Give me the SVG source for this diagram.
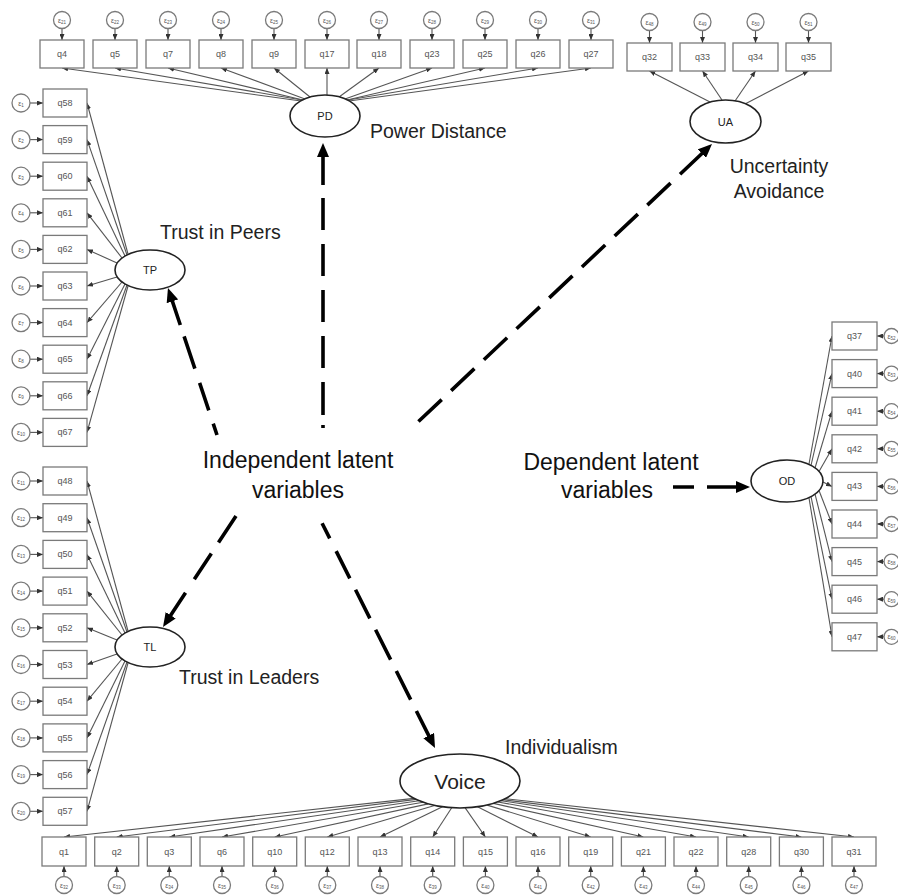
<svg xmlns="http://www.w3.org/2000/svg" width="898" height="896" viewBox="0 0 898 896">
<style>
.ob{fill:#fff;stroke:#7a7a7a;stroke-width:1.3}
.ot{font-family:"Liberation Sans",Arial,sans-serif;font-size:9px;fill:#555;text-anchor:middle}
.er{fill:#fff;stroke:#7a7a7a;stroke-width:1.3}
.et{font-family:"Liberation Sans",Arial,sans-serif;font-size:7px;fill:#555;text-anchor:middle}
.lv{fill:#fff;stroke:#222;stroke-width:1.6}
.lt{font-family:"Liberation Sans",Arial,sans-serif;font-size:11px;fill:#222;text-anchor:middle}
.lab{font-family:"Liberation Sans",Arial,sans-serif;font-size:19.5px;fill:#222}
.big{font-family:"Liberation Sans",Arial,sans-serif;font-size:23px;fill:#111;text-anchor:middle}
.sub{font-size:4.5px}
</style>
<defs>
<marker id="sa" viewBox="0 0 6 5" refX="6" refY="2.5" markerWidth="6" markerHeight="5" markerUnits="userSpaceOnUse" orient="auto"><path d="M0,0 L6,2.5 L0,5 z" fill="#333"/></marker>
<marker id="ba" viewBox="0 0 14 12" refX="6" refY="6" markerWidth="14" markerHeight="12" markerUnits="userSpaceOnUse" orient="auto-start-reverse"><path d="M0,0 L14,6 L0,12 z" fill="#000"/></marker>
</defs>
<rect width="898" height="896" fill="#fff"/>

<g id="connectors">
<g fill="none" stroke="#555" stroke-width="1.1" marker-end="url(#sa)">
<!-- PD loadings -->
<line x1="301" y1="101" x2="62" y2="68"/>
<line x1="302" y1="100" x2="115" y2="68"/>
<line x1="303" y1="100" x2="168" y2="68"/>
<line x1="305" y1="99" x2="221" y2="68"/>
<line x1="310" y1="97" x2="274" y2="68"/>
<line x1="327" y1="95" x2="327" y2="68"/>
<line x1="339" y1="97" x2="379" y2="68"/>
<line x1="345" y1="99" x2="432" y2="68"/>
<line x1="347" y1="100" x2="485" y2="68"/>
<line x1="348" y1="100" x2="538" y2="68"/>
<line x1="349" y1="101" x2="591" y2="68"/>
<!-- UA loadings -->
<line x1="710" y1="102" x2="649.5" y2="71"/>
<line x1="722" y1="100" x2="702.5" y2="71"/>
<line x1="735" y1="101" x2="755.5" y2="71"/>
<line x1="745" y1="104" x2="808.5" y2="71"/>
<!-- TP loadings -->
<line x1="128" y1="254" x2="87" y2="103"/>
<line x1="127" y1="255" x2="87" y2="139.6"/>
<line x1="125" y1="256" x2="87" y2="176.2"/>
<line x1="122" y1="258" x2="87" y2="212.8"/>
<line x1="117" y1="263" x2="87" y2="249.4"/>
<line x1="117" y1="277" x2="87" y2="286"/>
<line x1="122" y1="282" x2="87" y2="322.6"/>
<line x1="125" y1="284" x2="87" y2="359.2"/>
<line x1="127" y1="285" x2="87" y2="395.8"/>
<line x1="128" y1="286" x2="87" y2="432.4"/>
<!-- TL loadings -->
<line x1="128" y1="631" x2="87" y2="481"/>
<line x1="127" y1="632" x2="87" y2="517.7"/>
<line x1="125" y1="633" x2="87" y2="554.4"/>
<line x1="122" y1="635" x2="87" y2="591.1"/>
<line x1="117" y1="640" x2="87" y2="627.8"/>
<line x1="117" y1="654" x2="87" y2="664.5"/>
<line x1="122" y1="659" x2="87" y2="701.2"/>
<line x1="125" y1="661" x2="87" y2="737.9"/>
<line x1="127" y1="662" x2="87" y2="774.6"/>
<line x1="128" y1="663" x2="87" y2="811.3"/>
<!-- OD loadings -->
<line x1="809" y1="464" x2="832" y2="336"/>
<line x1="811" y1="465.5" x2="832" y2="373.6"/>
<line x1="815" y1="468" x2="832" y2="411.2"/>
<line x1="819" y1="471.5" x2="832" y2="448.8"/>
<line x1="823" y1="482" x2="832" y2="486.4"/>
<line x1="819" y1="490.5" x2="832" y2="524"/>
<line x1="815" y1="494" x2="832" y2="561.6"/>
<line x1="811" y1="496.5" x2="832" y2="599.2"/>
<line x1="809" y1="498" x2="832" y2="636.8"/>
<!-- Voice loadings -->
<line x1="414" y1="798.4" x2="64" y2="837"/>
<line x1="416.1" y1="799.4" x2="116.7" y2="837"/>
<line x1="419.1" y1="800.7" x2="169.3" y2="837"/>
<line x1="423.1" y1="802.3" x2="222" y2="837"/>
<line x1="428.2" y1="803.9" x2="274.7" y2="837"/>
<line x1="434.6" y1="805.5" x2="327.3" y2="837"/>
<line x1="442.5" y1="806.8" x2="380" y2="837"/>
<line x1="451.7" y1="807.7" x2="432.7" y2="837"/>
<line x1="465.2" y1="807.9" x2="485.4" y2="837"/>
<line x1="477.5" y1="806.8" x2="538" y2="837"/>
<line x1="487.2" y1="805.1" x2="590.7" y2="837"/>
<line x1="493.5" y1="803.4" x2="643.4" y2="837"/>
<line x1="497.8" y1="802" x2="696" y2="837"/>
<line x1="500.9" y1="800.7" x2="748.7" y2="837"/>
<line x1="503.2" y1="799.8" x2="801.4" y2="837"/>
<line x1="505.3" y1="798.7" x2="854" y2="837"/>
<!-- error arrows PD -->
<line x1="62" y1="28.5" x2="62" y2="40"/>
<line x1="115" y1="28.5" x2="115" y2="40"/>
<line x1="168" y1="28.5" x2="168" y2="40"/>
<line x1="221" y1="28.5" x2="221" y2="40"/>
<line x1="274" y1="28.5" x2="274" y2="40"/>
<line x1="327" y1="28.5" x2="327" y2="40"/>
<line x1="379" y1="28.5" x2="379" y2="40"/>
<line x1="432" y1="28.5" x2="432" y2="40"/>
<line x1="485" y1="28.5" x2="485" y2="40"/>
<line x1="538" y1="28.5" x2="538" y2="40"/>
<line x1="591" y1="28.5" x2="591" y2="40"/>
<!-- error arrows UA -->
<line x1="649.5" y1="30.5" x2="649.5" y2="43"/>
<line x1="702.5" y1="30.5" x2="702.5" y2="43"/>
<line x1="755.5" y1="30.5" x2="755.5" y2="43"/>
<line x1="808.5" y1="30.5" x2="808.5" y2="43"/>
<!-- error arrows TP -->
<line x1="30" y1="103" x2="43" y2="103"/>
<line x1="30" y1="139.6" x2="43" y2="139.6"/>
<line x1="30" y1="176.2" x2="43" y2="176.2"/>
<line x1="30" y1="212.8" x2="43" y2="212.8"/>
<line x1="30" y1="249.4" x2="43" y2="249.4"/>
<line x1="30" y1="286" x2="43" y2="286"/>
<line x1="30" y1="322.6" x2="43" y2="322.6"/>
<line x1="30" y1="359.2" x2="43" y2="359.2"/>
<line x1="30" y1="395.8" x2="43" y2="395.8"/>
<line x1="30" y1="432.4" x2="43" y2="432.4"/>
<!-- error arrows TL -->
<line x1="30" y1="481" x2="43" y2="481"/>
<line x1="30" y1="517.7" x2="43" y2="517.7"/>
<line x1="30" y1="554.4" x2="43" y2="554.4"/>
<line x1="30" y1="591.1" x2="43" y2="591.1"/>
<line x1="30" y1="627.8" x2="43" y2="627.8"/>
<line x1="30" y1="664.5" x2="43" y2="664.5"/>
<line x1="30" y1="701.2" x2="43" y2="701.2"/>
<line x1="30" y1="737.9" x2="43" y2="737.9"/>
<line x1="30" y1="774.6" x2="43" y2="774.6"/>
<line x1="30" y1="811.3" x2="43" y2="811.3"/>
<!-- error arrows OD -->
<line x1="884" y1="336" x2="877" y2="336"/>
<line x1="884" y1="373.6" x2="877" y2="373.6"/>
<line x1="884" y1="411.2" x2="877" y2="411.2"/>
<line x1="884" y1="448.8" x2="877" y2="448.8"/>
<line x1="884" y1="486.4" x2="877" y2="486.4"/>
<line x1="884" y1="524" x2="877" y2="524"/>
<line x1="884" y1="561.6" x2="877" y2="561.6"/>
<line x1="884" y1="599.2" x2="877" y2="599.2"/>
<line x1="884" y1="636.8" x2="877" y2="636.8"/>
<!-- error arrows Voice -->
<line x1="64" y1="876.5" x2="64" y2="866"/>
<line x1="116.7" y1="876.5" x2="116.7" y2="866"/>
<line x1="169.3" y1="876.5" x2="169.3" y2="866"/>
<line x1="222" y1="876.5" x2="222" y2="866"/>
<line x1="274.7" y1="876.5" x2="274.7" y2="866"/>
<line x1="327.3" y1="876.5" x2="327.3" y2="866"/>
<line x1="380" y1="876.5" x2="380" y2="866"/>
<line x1="432.7" y1="876.5" x2="432.7" y2="866"/>
<line x1="485.4" y1="876.5" x2="485.4" y2="866"/>
<line x1="538" y1="876.5" x2="538" y2="866"/>
<line x1="590.7" y1="876.5" x2="590.7" y2="866"/>
<line x1="643.4" y1="876.5" x2="643.4" y2="866"/>
<line x1="696" y1="876.5" x2="696" y2="866"/>
<line x1="748.7" y1="876.5" x2="748.7" y2="866"/>
<line x1="801.4" y1="876.5" x2="801.4" y2="866"/>
<line x1="854" y1="876.5" x2="854" y2="866"/>
</g>
<g fill="none" stroke="#000" stroke-width="3.6" marker-start="url(#ba)">
<path d="M323,151 L323,428" stroke-dasharray="34 13 32 14 32 14 32 14 32 14 33 10 4 30"/>
<path d="M706.2,149.5 L418,422" stroke-dasharray="36 13 32 13 32 13 32 13 32 13 32 13 32 13 32 13 32 13 32 20"/>
<path d="M170.5,295.6 L217,435" stroke-dasharray="31 12 34 15 29 14 13 20"/>
<path d="M167.4,620.3 L236,516" stroke-dasharray="33 16 31 13 32 20"/>
<path d="M431.4,740.9 L322,523" stroke-dasharray="33.5 12.7 32 12.7 33.5 12.7 32 12.7 30.5 14.3 17 20"/>
<path d="M742,487 L673,487" stroke-dasharray="35 13 21 20"/>
</g>
</g>

<!-- latent variables -->
<g id="PD"><ellipse class="lv" cx="325" cy="116" rx="35" ry="21"/><text class="lt" x="325" y="120">PD</text></g>
<g id="UA"><ellipse class="lv" cx="725.5" cy="121.5" rx="35.5" ry="21.5"/><text class="lt" x="725.5" y="125.5">UA</text></g>
<g id="TP"><ellipse class="lv" cx="150" cy="270" rx="35" ry="20"/><text class="lt" x="150" y="274">TP</text></g>
<g id="TL"><ellipse class="lv" cx="150" cy="647" rx="35" ry="20"/><text class="lt" x="150" y="651">TL</text></g>
<g id="OD"><ellipse class="lv" cx="787" cy="481" rx="36" ry="21"/><text class="lt" x="787" y="485">OD</text></g>
<g id="Voice"><ellipse class="lv" cx="460" cy="781" rx="60" ry="27"/><text class="lt" x="460" y="789" style="font-size:21px">Voice</text></g>

<!-- PD indicators -->
<g id="q4"><rect class="ob" x="40" y="40" width="44" height="28"/><text class="ot" x="62" y="57">q4</text></g>
<g id="q5"><rect class="ob" x="93" y="40" width="44" height="28"/><text class="ot" x="115" y="57">q5</text></g>
<g id="q7"><rect class="ob" x="146" y="40" width="44" height="28"/><text class="ot" x="168" y="57">q7</text></g>
<g id="q8"><rect class="ob" x="199" y="40" width="44" height="28"/><text class="ot" x="221" y="57">q8</text></g>
<g id="q9"><rect class="ob" x="252" y="40" width="44" height="28"/><text class="ot" x="274" y="57">q9</text></g>
<g id="q17"><rect class="ob" x="305" y="40" width="44" height="28"/><text class="ot" x="327" y="57">q17</text></g>
<g id="q18"><rect class="ob" x="357" y="40" width="44" height="28"/><text class="ot" x="379" y="57">q18</text></g>
<g id="q23"><rect class="ob" x="410" y="40" width="44" height="28"/><text class="ot" x="432" y="57">q23</text></g>
<g id="q25"><rect class="ob" x="463" y="40" width="44" height="28"/><text class="ot" x="485" y="57">q25</text></g>
<g id="q26"><rect class="ob" x="516" y="40" width="44" height="28"/><text class="ot" x="538" y="57">q26</text></g>
<g id="q27"><rect class="ob" x="569" y="40" width="44" height="28"/><text class="ot" x="591" y="57">q27</text></g>
<g id="e21"><circle class="er" cx="62" cy="20" r="8.5"/><text class="et" x="62" y="22.5">ε<tspan class="sub" dy="1">21</tspan></text></g>
<g id="e22"><circle class="er" cx="115" cy="20" r="8.5"/><text class="et" x="115" y="22.5">ε<tspan class="sub" dy="1">22</tspan></text></g>
<g id="e23"><circle class="er" cx="168" cy="20" r="8.5"/><text class="et" x="168" y="22.5">ε<tspan class="sub" dy="1">23</tspan></text></g>
<g id="e24"><circle class="er" cx="221" cy="20" r="8.5"/><text class="et" x="221" y="22.5">ε<tspan class="sub" dy="1">24</tspan></text></g>
<g id="e25"><circle class="er" cx="274" cy="20" r="8.5"/><text class="et" x="274" y="22.5">ε<tspan class="sub" dy="1">25</tspan></text></g>
<g id="e26"><circle class="er" cx="327" cy="20" r="8.5"/><text class="et" x="327" y="22.5">ε<tspan class="sub" dy="1">26</tspan></text></g>
<g id="e27"><circle class="er" cx="379" cy="20" r="8.5"/><text class="et" x="379" y="22.5">ε<tspan class="sub" dy="1">27</tspan></text></g>
<g id="e28"><circle class="er" cx="432" cy="20" r="8.5"/><text class="et" x="432" y="22.5">ε<tspan class="sub" dy="1">28</tspan></text></g>
<g id="e29"><circle class="er" cx="485" cy="20" r="8.5"/><text class="et" x="485" y="22.5">ε<tspan class="sub" dy="1">29</tspan></text></g>
<g id="e30"><circle class="er" cx="538" cy="20" r="8.5"/><text class="et" x="538" y="22.5">ε<tspan class="sub" dy="1">30</tspan></text></g>
<g id="e31"><circle class="er" cx="591" cy="20" r="8.5"/><text class="et" x="591" y="22.5">ε<tspan class="sub" dy="1">31</tspan></text></g>

<!-- UA indicators -->
<g id="q32"><rect class="ob" x="627" y="43" width="45" height="28"/><text class="ot" x="649.5" y="60">q32</text></g>
<g id="q33"><rect class="ob" x="680" y="43" width="45" height="28"/><text class="ot" x="702.5" y="60">q33</text></g>
<g id="q34"><rect class="ob" x="733" y="43" width="45" height="28"/><text class="ot" x="755.5" y="60">q34</text></g>
<g id="q35"><rect class="ob" x="786" y="43" width="45" height="28"/><text class="ot" x="808.5" y="60">q35</text></g>
<g id="e48"><circle class="er" cx="649.5" cy="22" r="8.5"/><text class="et" x="649.5" y="24.5">ε<tspan class="sub" dy="1">48</tspan></text></g>
<g id="e49"><circle class="er" cx="702.5" cy="22" r="8.5"/><text class="et" x="702.5" y="24.5">ε<tspan class="sub" dy="1">49</tspan></text></g>
<g id="e50"><circle class="er" cx="755.5" cy="22" r="8.5"/><text class="et" x="755.5" y="24.5">ε<tspan class="sub" dy="1">50</tspan></text></g>
<g id="e51"><circle class="er" cx="808.5" cy="22" r="8.5"/><text class="et" x="808.5" y="24.5">ε<tspan class="sub" dy="1">51</tspan></text></g>

<!-- TP indicators -->
<g id="q58"><rect class="ob" x="43" y="89" width="44" height="28"/><text class="ot" x="65" y="106">q58</text></g>
<g id="q59"><rect class="ob" x="43" y="125.6" width="44" height="28"/><text class="ot" x="65" y="142.6">q59</text></g>
<g id="q60"><rect class="ob" x="43" y="162.2" width="44" height="28"/><text class="ot" x="65" y="179.2">q60</text></g>
<g id="q61"><rect class="ob" x="43" y="198.8" width="44" height="28"/><text class="ot" x="65" y="215.8">q61</text></g>
<g id="q62"><rect class="ob" x="43" y="235.4" width="44" height="28"/><text class="ot" x="65" y="252.4">q62</text></g>
<g id="q63"><rect class="ob" x="43" y="272" width="44" height="28"/><text class="ot" x="65" y="289">q63</text></g>
<g id="q64"><rect class="ob" x="43" y="308.6" width="44" height="28"/><text class="ot" x="65" y="325.6">q64</text></g>
<g id="q65"><rect class="ob" x="43" y="345.2" width="44" height="28"/><text class="ot" x="65" y="362.2">q65</text></g>
<g id="q66"><rect class="ob" x="43" y="381.8" width="44" height="28"/><text class="ot" x="65" y="398.8">q66</text></g>
<g id="q67"><rect class="ob" x="43" y="418.4" width="44" height="28"/><text class="ot" x="65" y="435.4">q67</text></g>
<g id="e1"><circle class="er" cx="21" cy="103" r="9"/><text class="et" x="21" y="105.5">ε<tspan class="sub" dy="1">1</tspan></text></g>
<g id="e2"><circle class="er" cx="21" cy="139.6" r="9"/><text class="et" x="21" y="142.1">ε<tspan class="sub" dy="1">2</tspan></text></g>
<g id="e3"><circle class="er" cx="21" cy="176.2" r="9"/><text class="et" x="21" y="178.7">ε<tspan class="sub" dy="1">3</tspan></text></g>
<g id="e4"><circle class="er" cx="21" cy="212.8" r="9"/><text class="et" x="21" y="215.3">ε<tspan class="sub" dy="1">4</tspan></text></g>
<g id="e5"><circle class="er" cx="21" cy="249.4" r="9"/><text class="et" x="21" y="251.9">ε<tspan class="sub" dy="1">5</tspan></text></g>
<g id="e6"><circle class="er" cx="21" cy="286" r="9"/><text class="et" x="21" y="288.5">ε<tspan class="sub" dy="1">6</tspan></text></g>
<g id="e7"><circle class="er" cx="21" cy="322.6" r="9"/><text class="et" x="21" y="325.1">ε<tspan class="sub" dy="1">7</tspan></text></g>
<g id="e8"><circle class="er" cx="21" cy="359.2" r="9"/><text class="et" x="21" y="361.7">ε<tspan class="sub" dy="1">8</tspan></text></g>
<g id="e9"><circle class="er" cx="21" cy="395.8" r="9"/><text class="et" x="21" y="398.3">ε<tspan class="sub" dy="1">9</tspan></text></g>
<g id="e10"><circle class="er" cx="21" cy="432.4" r="9"/><text class="et" x="21" y="434.9">ε<tspan class="sub" dy="1">10</tspan></text></g>

<!-- TL indicators -->
<g id="q48"><rect class="ob" x="43" y="467" width="44" height="28"/><text class="ot" x="65" y="484">q48</text></g>
<g id="q49"><rect class="ob" x="43" y="503.7" width="44" height="28"/><text class="ot" x="65" y="520.7">q49</text></g>
<g id="q50"><rect class="ob" x="43" y="540.4" width="44" height="28"/><text class="ot" x="65" y="557.4">q50</text></g>
<g id="q51"><rect class="ob" x="43" y="577.1" width="44" height="28"/><text class="ot" x="65" y="594.1">q51</text></g>
<g id="q52"><rect class="ob" x="43" y="613.8" width="44" height="28"/><text class="ot" x="65" y="630.8">q52</text></g>
<g id="q53"><rect class="ob" x="43" y="650.5" width="44" height="28"/><text class="ot" x="65" y="667.5">q53</text></g>
<g id="q54"><rect class="ob" x="43" y="687.2" width="44" height="28"/><text class="ot" x="65" y="704.2">q54</text></g>
<g id="q55"><rect class="ob" x="43" y="723.9" width="44" height="28"/><text class="ot" x="65" y="740.9">q55</text></g>
<g id="q56"><rect class="ob" x="43" y="760.6" width="44" height="28"/><text class="ot" x="65" y="777.6">q56</text></g>
<g id="q57"><rect class="ob" x="43" y="797.3" width="44" height="28"/><text class="ot" x="65" y="814.3">q57</text></g>
<g id="e11"><circle class="er" cx="21" cy="481" r="9"/><text class="et" x="21" y="483.5">ε<tspan class="sub" dy="1">11</tspan></text></g>
<g id="e12"><circle class="er" cx="21" cy="517.7" r="9"/><text class="et" x="21" y="520.2">ε<tspan class="sub" dy="1">12</tspan></text></g>
<g id="e13"><circle class="er" cx="21" cy="554.4" r="9"/><text class="et" x="21" y="556.9">ε<tspan class="sub" dy="1">13</tspan></text></g>
<g id="e14"><circle class="er" cx="21" cy="591.1" r="9"/><text class="et" x="21" y="593.6">ε<tspan class="sub" dy="1">14</tspan></text></g>
<g id="e15"><circle class="er" cx="21" cy="627.8" r="9"/><text class="et" x="21" y="630.3">ε<tspan class="sub" dy="1">15</tspan></text></g>
<g id="e16"><circle class="er" cx="21" cy="664.5" r="9"/><text class="et" x="21" y="667">ε<tspan class="sub" dy="1">16</tspan></text></g>
<g id="e17"><circle class="er" cx="21" cy="701.2" r="9"/><text class="et" x="21" y="703.7">ε<tspan class="sub" dy="1">17</tspan></text></g>
<g id="e18"><circle class="er" cx="21" cy="737.9" r="9"/><text class="et" x="21" y="740.4">ε<tspan class="sub" dy="1">18</tspan></text></g>
<g id="e19"><circle class="er" cx="21" cy="774.6" r="9"/><text class="et" x="21" y="777.1">ε<tspan class="sub" dy="1">19</tspan></text></g>
<g id="e20"><circle class="er" cx="21" cy="811.3" r="9"/><text class="et" x="21" y="813.8">ε<tspan class="sub" dy="1">20</tspan></text></g>

<!-- OD indicators -->
<g id="q37"><rect class="ob" x="832" y="322" width="45" height="28"/><text class="ot" x="854.5" y="339">q37</text></g>
<g id="q40"><rect class="ob" x="832" y="359.6" width="45" height="28"/><text class="ot" x="854.5" y="376.6">q40</text></g>
<g id="q41"><rect class="ob" x="832" y="397.2" width="45" height="28"/><text class="ot" x="854.5" y="414.2">q41</text></g>
<g id="q42"><rect class="ob" x="832" y="434.8" width="45" height="28"/><text class="ot" x="854.5" y="451.8">q42</text></g>
<g id="q43"><rect class="ob" x="832" y="472.4" width="45" height="28"/><text class="ot" x="854.5" y="489.4">q43</text></g>
<g id="q44"><rect class="ob" x="832" y="510" width="45" height="28"/><text class="ot" x="854.5" y="527">q44</text></g>
<g id="q45"><rect class="ob" x="832" y="547.6" width="45" height="28"/><text class="ot" x="854.5" y="564.6">q45</text></g>
<g id="q46"><rect class="ob" x="832" y="585.2" width="45" height="28"/><text class="ot" x="854.5" y="602.2">q46</text></g>
<g id="q47"><rect class="ob" x="832" y="622.8" width="45" height="28"/><text class="ot" x="854.5" y="639.8">q47</text></g>
<g id="e52"><circle class="er" cx="891.5" cy="336" r="7.5"/><text class="et" x="891.5" y="338.5">ε<tspan class="sub" dy="1">52</tspan></text></g>
<g id="e53"><circle class="er" cx="891.5" cy="373.6" r="7.5"/><text class="et" x="891.5" y="376.1">ε<tspan class="sub" dy="1">53</tspan></text></g>
<g id="e54"><circle class="er" cx="891.5" cy="411.2" r="7.5"/><text class="et" x="891.5" y="413.7">ε<tspan class="sub" dy="1">54</tspan></text></g>
<g id="e55"><circle class="er" cx="891.5" cy="448.8" r="7.5"/><text class="et" x="891.5" y="451.3">ε<tspan class="sub" dy="1">55</tspan></text></g>
<g id="e56"><circle class="er" cx="891.5" cy="486.4" r="7.5"/><text class="et" x="891.5" y="488.9">ε<tspan class="sub" dy="1">56</tspan></text></g>
<g id="e57"><circle class="er" cx="891.5" cy="524" r="7.5"/><text class="et" x="891.5" y="526.5">ε<tspan class="sub" dy="1">57</tspan></text></g>
<g id="e58"><circle class="er" cx="891.5" cy="561.6" r="7.5"/><text class="et" x="891.5" y="564.1">ε<tspan class="sub" dy="1">58</tspan></text></g>
<g id="e59"><circle class="er" cx="891.5" cy="599.2" r="7.5"/><text class="et" x="891.5" y="601.7">ε<tspan class="sub" dy="1">59</tspan></text></g>
<g id="e60"><circle class="er" cx="891.5" cy="636.8" r="7.5"/><text class="et" x="891.5" y="639.3">ε<tspan class="sub" dy="1">60</tspan></text></g>

<!-- Voice indicators -->
<g id="q1"><rect class="ob" x="42" y="837" width="44" height="29"/><text class="ot" x="64" y="854.5">q1</text></g>
<g id="q2"><rect class="ob" x="94.7" y="837" width="44" height="29"/><text class="ot" x="116.7" y="854.5">q2</text></g>
<g id="q3"><rect class="ob" x="147.3" y="837" width="44" height="29"/><text class="ot" x="169.3" y="854.5">q3</text></g>
<g id="q6"><rect class="ob" x="200" y="837" width="44" height="29"/><text class="ot" x="222" y="854.5">q6</text></g>
<g id="q10"><rect class="ob" x="252.7" y="837" width="44" height="29"/><text class="ot" x="274.7" y="854.5">q10</text></g>
<g id="q12"><rect class="ob" x="305.3" y="837" width="44" height="29"/><text class="ot" x="327.3" y="854.5">q12</text></g>
<g id="q13"><rect class="ob" x="358" y="837" width="44" height="29"/><text class="ot" x="380" y="854.5">q13</text></g>
<g id="q14"><rect class="ob" x="410.7" y="837" width="44" height="29"/><text class="ot" x="432.7" y="854.5">q14</text></g>
<g id="q15"><rect class="ob" x="463.4" y="837" width="44" height="29"/><text class="ot" x="485.4" y="854.5">q15</text></g>
<g id="q16"><rect class="ob" x="516" y="837" width="44" height="29"/><text class="ot" x="538" y="854.5">q16</text></g>
<g id="q19"><rect class="ob" x="568.7" y="837" width="44" height="29"/><text class="ot" x="590.7" y="854.5">q19</text></g>
<g id="q21"><rect class="ob" x="621.4" y="837" width="44" height="29"/><text class="ot" x="643.4" y="854.5">q21</text></g>
<g id="q22"><rect class="ob" x="674" y="837" width="44" height="29"/><text class="ot" x="696" y="854.5">q22</text></g>
<g id="q28"><rect class="ob" x="726.7" y="837" width="44" height="29"/><text class="ot" x="748.7" y="854.5">q28</text></g>
<g id="q30"><rect class="ob" x="779.4" y="837" width="44" height="29"/><text class="ot" x="801.4" y="854.5">q30</text></g>
<g id="q31"><rect class="ob" x="832" y="837" width="44" height="29"/><text class="ot" x="854" y="854.5">q31</text></g>
<g id="e32"><circle class="er" cx="64" cy="885" r="8.5"/><text class="et" x="64" y="887.5">ε<tspan class="sub" dy="1">32</tspan></text></g>
<g id="e33"><circle class="er" cx="116.7" cy="885" r="8.5"/><text class="et" x="116.7" y="887.5">ε<tspan class="sub" dy="1">33</tspan></text></g>
<g id="e34"><circle class="er" cx="169.3" cy="885" r="8.5"/><text class="et" x="169.3" y="887.5">ε<tspan class="sub" dy="1">34</tspan></text></g>
<g id="e35"><circle class="er" cx="222" cy="885" r="8.5"/><text class="et" x="222" y="887.5">ε<tspan class="sub" dy="1">35</tspan></text></g>
<g id="e36"><circle class="er" cx="274.7" cy="885" r="8.5"/><text class="et" x="274.7" y="887.5">ε<tspan class="sub" dy="1">36</tspan></text></g>
<g id="e37"><circle class="er" cx="327.3" cy="885" r="8.5"/><text class="et" x="327.3" y="887.5">ε<tspan class="sub" dy="1">37</tspan></text></g>
<g id="e38"><circle class="er" cx="380" cy="885" r="8.5"/><text class="et" x="380" y="887.5">ε<tspan class="sub" dy="1">38</tspan></text></g>
<g id="e39"><circle class="er" cx="432.7" cy="885" r="8.5"/><text class="et" x="432.7" y="887.5">ε<tspan class="sub" dy="1">39</tspan></text></g>
<g id="e40"><circle class="er" cx="485.4" cy="885" r="8.5"/><text class="et" x="485.4" y="887.5">ε<tspan class="sub" dy="1">40</tspan></text></g>
<g id="e41"><circle class="er" cx="538" cy="885" r="8.5"/><text class="et" x="538" y="887.5">ε<tspan class="sub" dy="1">41</tspan></text></g>
<g id="e42"><circle class="er" cx="590.7" cy="885" r="8.5"/><text class="et" x="590.7" y="887.5">ε<tspan class="sub" dy="1">42</tspan></text></g>
<g id="e43"><circle class="er" cx="643.4" cy="885" r="8.5"/><text class="et" x="643.4" y="887.5">ε<tspan class="sub" dy="1">43</tspan></text></g>
<g id="e44"><circle class="er" cx="696" cy="885" r="8.5"/><text class="et" x="696" y="887.5">ε<tspan class="sub" dy="1">44</tspan></text></g>
<g id="e45"><circle class="er" cx="748.7" cy="885" r="8.5"/><text class="et" x="748.7" y="887.5">ε<tspan class="sub" dy="1">45</tspan></text></g>
<g id="e46"><circle class="er" cx="801.4" cy="885" r="8.5"/><text class="et" x="801.4" y="887.5">ε<tspan class="sub" dy="1">46</tspan></text></g>
<g id="e47"><circle class="er" cx="854" cy="885" r="8.5"/><text class="et" x="854" y="887.5">ε<tspan class="sub" dy="1">47</tspan></text></g>

<!-- construct labels -->
<g id="labels">
<text class="lab" x="370" y="138">Power Distance</text>
<text class="lab" x="779" y="173" text-anchor="middle">Uncertainty</text>
<text class="lab" x="779" y="198" text-anchor="middle">Avoidance</text>
<text class="lab" x="160" y="239">Trust in Peers</text>
<text class="lab" x="179" y="684">Trust in Leaders</text>
<text class="lab" x="505" y="754">Individualism</text>
<text class="big" x="298" y="468">Independent latent</text>
<text class="big" x="298" y="498">variables</text>
<text class="big" x="611" y="470">Dependent latent</text>
<text class="big" x="607" y="498">variables</text>
</g>
</svg>
